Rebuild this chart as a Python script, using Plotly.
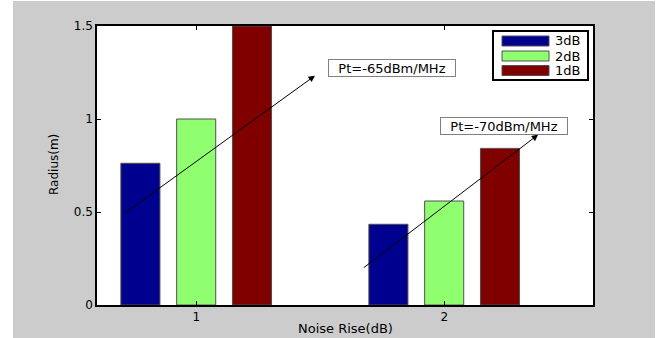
import plotly.graph_objects as go

# ---- data ----
categories = [1, 2]
series_names = ["3dB", "2dB", "1dB"]
radius_3dB = [0.762, 0.434]
radius_2dB = [1.0, 0.559]
radius_1dB = [1.5, 0.842]
y_tick_vals = [0, 0.5, 1, 1.5]
y_tick_text = ["0", "0.5", "1", "1.5"]
x_tick_vals = [1, 2]
x_tick_text = ["1", "2"]
label_65 = "Pt=-65dBm/MHz"
label_70 = "Pt=-70dBm/MHz"

colors = ["#00008F", "#8FFF70", "#800000"]
series_values = [radius_3dB, radius_2dB, radius_1dB]
FONT = "DejaVu Sans"

fig = go.Figure()
for name, vals, col in zip(series_names, series_values, colors):
    fig.add_trace(go.Bar(
        x=categories, y=vals, name=name,
        marker=dict(color=col, line=dict(color="#505050", width=1)),
        showlegend=False, hoverinfo="skip",
    ))

# plot area in pixels: x 97..593, y 26..305
L, R, T, B = 97, 69, 26, 33
PW, PH = 662 - L - R, 338 - T - B

def px(xp):
    return (xp - L) / PW

def py(yp):
    return (338 - B - yp) / PH

shapes = []
# white strips outside gray figure background
shapes.append(dict(type="rect", xref="paper", yref="paper", x0=px(-5), x1=px(13),
                   y0=py(345), y1=py(-5), fillcolor="white", line=dict(width=0), layer="below"))
shapes.append(dict(type="rect", xref="paper", yref="paper", x0=px(655), x1=px(670),
                   y0=py(345), y1=py(-5), fillcolor="white", line=dict(width=0), layer="below"))
shapes.append(dict(type="rect", xref="paper", yref="paper", x0=px(-5), x1=px(670),
                   y0=py(1), y1=py(-5), fillcolor="white", line=dict(width=0), layer="below"))

# manual legend
shapes.append(dict(type="rect", xref="paper", yref="paper", x0=px(493), x1=px(588),
                   y0=py(80), y1=py(31), fillcolor="white", line=dict(color="black", width=2)))
row_centers = [41, 56, 70.5]
annotations = []
for name, col, rc in zip(series_names, colors, row_centers):
    shapes.append(dict(type="rect", xref="paper", yref="paper", x0=px(502), x1=px(549),
                       y0=py(rc + 5), y1=py(rc - 5), fillcolor=col,
                       line=dict(color="#505050", width=1)))
    annotations.append(dict(xref="paper", yref="paper", x=px(553), y=py(rc),
                            xanchor="left", yanchor="middle", text=name, showarrow=False,
                            font=dict(family=FONT, size=13, color="black")))

# arrows (data coordinates)
annotations.append(dict(x=1.479, y=1.233, ax=0.706, ay=0.488, xref="x", yref="y",
                        axref="x", ayref="y", text="", showarrow=True, arrowhead=2,
                        arrowsize=1.3, arrowwidth=1, arrowcolor="black"))
annotations.append(dict(x=2.379, y=0.916, ax=1.670, ay=0.195, xref="x", yref="y",
                        axref="x", ayref="y", text="", showarrow=True, arrowhead=2,
                        arrowsize=1.3, arrowwidth=1, arrowcolor="black"))
# text boxes
annotations.append(dict(x=1.7895, y=1.274, xref="x", yref="y", text=label_65, showarrow=False,
                        bgcolor="white", bordercolor="#808080", borderwidth=1, borderpad=1,
                        width=124, height=14, font=dict(family=FONT, size=13, color="black")))
annotations.append(dict(x=2.241, y=0.962, xref="x", yref="y", text=label_70, showarrow=False,
                        bgcolor="white", bordercolor="#808080", borderwidth=1, borderpad=1,
                        width=124, height=14, font=dict(family=FONT, size=13, color="black")))
# axis titles
annotations.append(dict(xref="paper", yref="paper", x=px(345), y=py(328), text="Noise Rise(dB)",
                        showarrow=False, xanchor="center", yanchor="middle",
                        font=dict(family=FONT, size=13, color="black")))
annotations.append(dict(xref="paper", yref="paper", x=px(54), y=py(165), text="Radius(m)",
                        showarrow=False, textangle=-90, xanchor="center", yanchor="middle",
                        font=dict(family=FONT, size=12, color="black")))

fig.update_layout(
    width=662, height=338,
    margin=dict(l=L, r=R, t=T, b=B, pad=0),
    paper_bgcolor="#CCCCCC", plot_bgcolor="white",
    barmode="group", bargap=0.325, bargroupgap=0.30,
    shapes=shapes, annotations=annotations, showlegend=False,
    font=dict(family=FONT, size=12, color="black"),
)
fig.update_xaxes(range=[0.6, 2.6], tickvals=x_tick_vals, ticktext=x_tick_text,
                 ticks="inside", ticklen=4, tickcolor="black", mirror="allticks",
                 showline=True, linecolor="black", linewidth=1.5, showgrid=False,
                 zeroline=False, tickfont=dict(family=FONT, size=12, color="black"))
fig.update_yaxes(range=[0, 1.5], tickvals=y_tick_vals, ticktext=y_tick_text,
                 ticks="inside", ticklen=4, tickcolor="black", mirror="allticks",
                 showline=True, linecolor="black", linewidth=1.5, showgrid=False,
                 zeroline=False, tickfont=dict(family=FONT, size=12, color="black"))

fig.write_html("out.html")
